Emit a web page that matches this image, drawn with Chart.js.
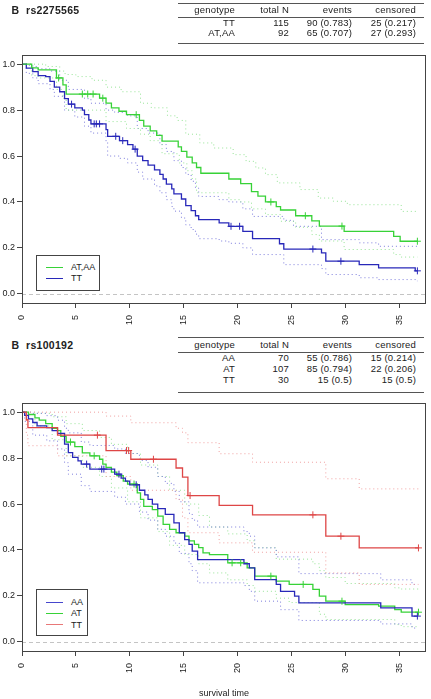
<!DOCTYPE html>
<html lang="en">
<head>
<meta charset="UTF-8" />
<title>Survival by genotype</title>
<script src="https://cdn.jsdelivr.net/npm/chart.js@4.4.1/dist/chart.umd.min.js"></script>
<style>
  body { margin: 0; background: #fff; width: 431px; height: 699px; position: relative; overflow: hidden;
         font-family: "Liberation Sans", Arial, sans-serif; color: #222; }
  canvas { position: absolute; left: 0; }
  .t { position: absolute; white-space: nowrap; }
  .ttl { font-weight: bold; font-size: 10.5px; line-height: 12px; letter-spacing: 0.3px; }
  .cell { font-size: 9.5px; line-height: 10px; text-align: right; width: 70px; letter-spacing: 0.2px; }
  .rule { position: absolute; height: 0; border-top: 1px solid #555; }
  .legend { position: absolute; border: 1px solid #444; background: #fff; }
  .legend .lab { position: absolute; font-size: 9px; line-height: 10px; white-space: nowrap; }
  .legend .ln { position: absolute; height: 1.5px; width: 17px; }
</style>
</head>
<body>
<canvas id="km1" width="431" height="335" style="top:0"></canvas>
<canvas id="km2" width="431" height="304" style="top:395px"></canvas>
<div id="overlay"></div>
<script>
// axes
const xTicks = [0, 5, 10, 15, 20, 25, 30, 35];
const yTicks = [0, 0.2, 0.4, 0.6, 0.8, 1.0];
const xRange = [0, 37.5];
const yRange = [-0.04, 1.04];

// ---- panel 1: rs2275565 ----
const snp1 = 'rs2275565';
const geno1 = ['TT', 'AT,AA'];
const totalN1 = [115, 92];
const events1 = [90, 65];
const legend1 = ['AT,AA', 'TT'];

// AT,AA
const atAaTime = [0, 0.9, 1.5, 3.2, 3.8, 4.1, 7.2, 7.8, 8.3, 9.0, 9.7, 10.9, 11.3, 11.9, 12.5, 13.0, 14.5, 14.8, 15.3, 15.8, 16.2, 16.6, 19.2, 20.3, 21.3, 21.9, 22.6, 23.6, 24.0, 25.4, 26.9, 27.6, 29.9, 34.5, 35.1, 36.7];
const atAaSurv = [1, 0.984, 0.975, 0.94, 0.91, 0.87, 0.852, 0.83, 0.81, 0.795, 0.78, 0.755, 0.73, 0.71, 0.69, 0.665, 0.64, 0.62, 0.595, 0.57, 0.55, 0.525, 0.5, 0.48, 0.445, 0.425, 0.4, 0.38, 0.365, 0.34, 0.318, 0.295, 0.272, 0.25, 0.229, 0.229];
const atAaCens = [3.4, 5.6, 6.1, 6.6, 7.5, 10.6, 23.1, 26.3, 29.7, 36.7];
const atAaUpT = [0, 2.2, 3.5, 4.0, 5.0, 6.5, 7.8, 9.2, 11.0, 12.0, 13.5, 14.4, 15.2, 16.5, 17.8, 19.6, 20.8, 21.7, 22.6, 23.7, 25.8, 27.5, 28.9, 30.2, 35.2, 36.7];
const atAaUp = [1, 0.99, 0.97, 0.955, 0.946, 0.93, 0.9, 0.88, 0.83, 0.81, 0.775, 0.755, 0.695, 0.657, 0.635, 0.606, 0.577, 0.548, 0.519, 0.483, 0.454, 0.417, 0.403, 0.388, 0.359, 0.359];
const atAaLoT = [0, 0.9, 1.5, 3.2, 3.8, 4.1, 7.8, 9.7, 11.0, 11.9, 13.0, 14.6, 15.3, 15.8, 16.2, 19.2, 20.3, 21.3, 22.6, 24.0, 25.4, 26.9, 27.6, 29.9, 34.5, 35.1, 36.7];
const atAaLo = [1, 0.95, 0.94, 0.89, 0.85, 0.8, 0.75, 0.72, 0.695, 0.667, 0.61, 0.57, 0.536, 0.5, 0.44, 0.41, 0.4, 0.37, 0.345, 0.316, 0.29, 0.258, 0.23, 0.193, 0.171, 0.16, 0.16];

// TT
const ttTime = [0, 0.4, 1.0, 1.5, 2.2, 2.6, 3.0, 3.5, 3.95, 4.3, 4.9, 5.6, 5.8, 6.2, 6.4, 7.8, 7.95, 9.05, 9.8, 10.3, 10.7, 11.2, 11.7, 12.3, 12.8, 13.1, 13.4, 13.9, 14.1, 14.8, 15.2, 15.7, 16.1, 16.4, 18.3, 19.2, 20.5, 21.4, 23.9, 24.3, 27.8, 28.2, 31.3, 33.1, 36.5, 36.7];
const ttSurv = [1, 0.983, 0.968, 0.95, 0.946, 0.925, 0.9, 0.88, 0.85, 0.826, 0.81, 0.8, 0.78, 0.757, 0.74, 0.715, 0.686, 0.667, 0.65, 0.63, 0.6, 0.58, 0.56, 0.54, 0.52, 0.5, 0.478, 0.457, 0.435, 0.413, 0.384, 0.362, 0.34, 0.323, 0.309, 0.294, 0.272, 0.24, 0.218, 0.195, 0.178, 0.142, 0.127, 0.113, 0.1, 0.1];
const ttCens = [4.6, 6.7, 6.9, 7.2, 8.7, 9.35, 10.5, 19.4, 20.2, 27.0, 29.6, 36.7];
const ttUpT = [0, 0.4, 1.0, 1.5, 2.6, 3.5, 4.3, 5.8, 6.4, 7.8, 8.6, 9.8, 10.7, 11.7, 12.8, 13.4, 14.1, 14.8, 15.2, 15.7, 16.1, 16.4, 18.3, 19.2, 20.5, 21.4, 24.3, 25.2, 27.8, 31.3, 33.1, 36.7];
const ttUp = [1, 0.995, 0.99, 0.98, 0.97, 0.93, 0.89, 0.85, 0.83, 0.8, 0.79, 0.775, 0.72, 0.7, 0.65, 0.62, 0.58, 0.55, 0.52, 0.49, 0.46, 0.424, 0.41, 0.4, 0.37, 0.337, 0.32, 0.294, 0.236, 0.222, 0.207, 0.207];
const ttLoT = [0, 0.4, 1.0, 1.5, 2.6, 3.0, 3.95, 4.9, 5.8, 6.4, 7.8, 7.95, 9.05, 9.8, 10.7, 11.2, 12.3, 12.8, 13.4, 13.9, 14.1, 14.8, 15.2, 15.7, 16.1, 16.4, 18.3, 19.2, 20.5, 21.4, 24.3, 27.8, 28.2, 31.3, 33.1, 36.7];
const ttLo = [1, 0.96, 0.94, 0.915, 0.89, 0.86, 0.8, 0.77, 0.73, 0.7, 0.66, 0.6, 0.59, 0.57, 0.53, 0.5, 0.47, 0.44, 0.41, 0.38, 0.36, 0.33, 0.3, 0.28, 0.26, 0.24, 0.23, 0.22, 0.2, 0.171, 0.127, 0.11, 0.084, 0.07, 0.062, 0.055];

// ---- panel 2: rs100192 ----
const snp2 = 'rs100192';
const geno2 = ['AA', 'AT', 'TT'];
const totalN2 = [70, 107, 30];
const events2 = [55, 85, 15];
const legend2 = ['AA', 'AT', 'TT'];

// AA
const aaTime = [0, 0.25, 0.6, 1.0, 1.4, 2.3, 2.8, 3.3, 3.95, 4.3, 4.7, 5.2, 5.5, 6.3, 8.6, 9.2, 9.6, 10.0, 10.9, 11.4, 11.7, 12.1, 12.6, 13.3, 14.1, 14.6, 15.1, 15.5, 15.8, 16.3, 20.6, 21.1, 21.6, 23.6, 24.0, 25.3, 25.7, 33.3, 36.2, 36.7];
const aaSurv = [1, 0.986, 0.971, 0.955, 0.94, 0.933, 0.92, 0.908, 0.861, 0.824, 0.803, 0.788, 0.774, 0.752, 0.73, 0.713, 0.7, 0.684, 0.66, 0.64, 0.62, 0.6, 0.58, 0.555, 0.518, 0.475, 0.445, 0.424, 0.395, 0.358, 0.34, 0.322, 0.271, 0.25, 0.22, 0.199, 0.17, 0.148, 0.112, 0.112];
const aaCens = [6.0, 7.4, 7.6, 9.0, 10.6, 36.7];
const aaUpT = [0, 1.0, 2.3, 3.3, 3.95, 4.3, 5.5, 6.3, 8.6, 9.6, 10.9, 11.7, 12.6, 13.3, 14.1, 14.6, 15.5, 15.8, 16.3, 20.6, 21.1, 21.6, 23.6, 25.7, 33.3, 36.2, 36.7];
const aaUp = [1, 0.995, 0.985, 0.965, 0.93, 0.91, 0.87, 0.855, 0.84, 0.82, 0.79, 0.76, 0.72, 0.69, 0.655, 0.61, 0.56, 0.53, 0.5, 0.48, 0.46, 0.409, 0.37, 0.297, 0.27, 0.25, 0.25];
const aaLoT = [0, 0.25, 1.0, 2.3, 3.3, 3.95, 4.3, 5.5, 6.3, 8.6, 9.6, 10.9, 11.7, 12.6, 13.3, 14.1, 14.6, 15.5, 15.8, 16.3, 20.6, 21.1, 21.6, 24.0, 25.7, 33.3, 36.2, 36.7];
const aaLo = [1, 0.96, 0.9, 0.875, 0.84, 0.78, 0.73, 0.68, 0.655, 0.63, 0.6, 0.565, 0.53, 0.49, 0.46, 0.43, 0.385, 0.34, 0.31, 0.257, 0.245, 0.22, 0.177, 0.14, 0.093, 0.078, 0.06, 0.06];

// AT
const atTime = [0, 0.6, 1.2, 1.6, 2.2, 2.8, 3.3, 3.6, 4.1, 4.9, 5.6, 6.3, 7.2, 7.5, 7.8, 8.3, 8.8, 9.4, 9.8, 10.7, 11.0, 11.3, 12.1, 12.6, 13.1, 13.7, 14.3, 15.1, 15.5, 16.0, 16.4, 16.8, 17.4, 19.1, 20.9, 21.6, 23.6, 24.8, 27.0, 27.6, 28.2, 30.0, 33.1, 34.6, 35.2, 36.8];
const atSurv = [1, 0.99, 0.975, 0.965, 0.95, 0.93, 0.92, 0.895, 0.87, 0.85, 0.823, 0.81, 0.795, 0.774, 0.76, 0.739, 0.724, 0.7, 0.687, 0.649, 0.62, 0.59, 0.576, 0.547, 0.511, 0.49, 0.475, 0.46, 0.44, 0.424, 0.41, 0.387, 0.38, 0.344, 0.322, 0.286, 0.264, 0.25, 0.228, 0.199, 0.177, 0.162, 0.155, 0.14, 0.129, 0.129];
const atCens = [4.5, 6.7, 10.4, 19.5, 20.3, 23.1, 26.1, 29.7, 36.8];
const atUpT = [0, 1.2, 2.8, 4.1, 5.6, 7.2, 8.3, 9.8, 11.0, 12.6, 13.7, 15.1, 16.4, 17.4, 19.1, 20.9, 21.6, 23.6, 27.0, 27.6, 28.2, 30.0, 34.6, 35.2, 36.8];
const atUp = [1, 0.995, 0.98, 0.95, 0.92, 0.89, 0.86, 0.82, 0.77, 0.72, 0.66, 0.6, 0.55, 0.5, 0.47, 0.44, 0.41, 0.36, 0.34, 0.31, 0.28, 0.254, 0.235, 0.23, 0.23];
const atLoT = [0, 0.6, 1.2, 2.8, 4.1, 5.6, 7.2, 8.3, 9.8, 11.0, 12.6, 13.7, 15.1, 16.4, 17.4, 19.1, 20.9, 21.6, 23.6, 24.8, 27.6, 28.2, 34.6, 35.2, 36.8];
const atLo = [1, 0.97, 0.94, 0.88, 0.81, 0.76, 0.72, 0.67, 0.61, 0.54, 0.48, 0.42, 0.38, 0.34, 0.3, 0.27, 0.245, 0.22, 0.19, 0.171, 0.12, 0.097, 0.075, 0.066, 0.066];

// TT
const tt2Time = [0, 0.4, 0.55, 3.3, 7.8, 10.1, 14.3, 14.9, 15.4, 18.3, 21.4, 28.2, 31.3, 36.8];
const tt2Surv = [1, 0.967, 0.933, 0.9, 0.833, 0.795, 0.757, 0.717, 0.637, 0.594, 0.553, 0.46, 0.409, 0.409];
const tt2Cens = [7.0, 9.7, 9.9, 12.2, 15.6, 27.0, 29.6, 36.8];
const tt2UpT = [0, 7.8, 10.1, 14.3, 14.9, 15.4, 18.3, 21.4, 28.2, 31.3, 36.8];
const tt2Up = [1, 0.983, 0.954, 0.93, 0.91, 0.867, 0.819, 0.782, 0.71, 0.666, 0.666];
const tt2LoT = [0, 0.4, 0.55, 3.3, 7.8, 10.1, 14.3, 14.9, 15.4, 18.3, 21.4, 28.2, 31.3, 36.8];
const tt2Lo = [1, 0.9, 0.854, 0.81, 0.72, 0.66, 0.62, 0.54, 0.475, 0.431, 0.39, 0.3, 0.25, 0.25];

const green = 'rgb(55, 210, 55)', greenCI = 'rgb(150, 228, 150)';
const blue = 'rgb(40, 40, 185)', blueCI = 'rgb(125, 125, 220)';
const red = 'rgb(222, 70, 70)', redCI = 'rgb(240, 160, 160)';
const axisColor = '#444';
const tickFont = { family: '"Liberation Sans", Arial, sans-serif', size: 9 };

const pts = (t, s) => t.map((v, i) => ({ x: v, y: s[i] }));
const stepAt = (t, s, v) => { let y = s[0]; t.forEach((tt, i) => { if (tt <= v) y = s[i]; }); return y; };

function curve(t, s, upT, up, loT, lo, cens, col, ciCol) {
  const ci = d => ({ data: d, borderColor: ciCol, borderWidth: 1, borderDash: [1, 3],
                     stepped: true, pointRadius: 0, fill: false, order: 3 });
  return [
    ci(pts(upT, up)),
    ci(pts(loT, lo)),
    { data: pts(t, s), borderColor: col, borderWidth: 1.3, stepped: true, pointRadius: 0, fill: false, order: 2 },
    { data: cens.map(c => ({ x: c, y: stepAt(t, s, c) })), showLine: false, pointStyle: 'cross',
      pointRadius: 3.5, pointBorderWidth: 1, borderColor: col, order: 1 }
  ];
}

// frame box and dashed zero line
const framePlugin = {
  id: 'frame',
  beforeDatasetsDraw(chart) {
    const { ctx, chartArea: a, scales } = chart;
    const y0 = Math.round(scales.y.getPixelForValue(0)) + 0.5;
    ctx.save();
    ctx.strokeStyle = '#c4c4c4';
    ctx.lineWidth = 1;
    ctx.setLineDash([4, 3]);
    ctx.beginPath(); ctx.moveTo(a.left, y0); ctx.lineTo(a.right, y0); ctx.stroke();
    ctx.restore();
  },
  afterDraw(chart) {
    const { ctx, chartArea: a } = chart;
    ctx.save();
    ctx.strokeStyle = axisColor;
    ctx.lineWidth = 1;
    ctx.strokeRect(Math.round(a.left) + 0.5, Math.round(a.top) + 0.5,
                   Math.round(a.right - a.left) - 1, Math.round(a.bottom - a.top));
    ctx.restore();
  }
};

function makeChart(id, sets, padTop, xHeight, xTitle) {
  return new Chart(document.getElementById(id), {
    type: 'line',
    data: { datasets: sets },
    options: {
      responsive: false, animation: false, events: [],
      layout: { padding: { top: padTop, right: 4, left: 0, bottom: 0 } },
      plugins: { legend: { display: false }, tooltip: { enabled: false } },
      scales: {
        x: {
          type: 'linear', min: xRange[0], max: xRange[1],
          afterBuildTicks: s => { s.ticks = xTicks.map(v => ({ value: v })); },
          afterFit: s => { s.height = xHeight; },
          grid: { drawOnChartArea: false, tickLength: 5, color: axisColor },
          border: { display: false },
          ticks: { autoSkip: false, minRotation: 90, maxRotation: 90, padding: 7, color: '#222', font: tickFont },
          title: { display: !!xTitle, text: xTitle || '', color: '#222', font: tickFont, padding: { top: 0, bottom: 0 } }
        },
        y: {
          type: 'linear', min: yRange[0], max: yRange[1],
          afterBuildTicks: s => { s.ticks = yTicks.map(v => ({ value: v })); },
          afterFit: s => { s.width = 22; },
          grid: { drawOnChartArea: false, tickLength: 5, color: axisColor },
          border: { display: false },
          ticks: { padding: 2, color: '#222', font: tickFont, callback: v => v.toFixed(1) }
        }
      }
    },
    plugins: [framePlugin]
  });
}

makeChart('km1', [
  ...curve(atAaTime, atAaSurv, atAaUpT, atAaUp, atAaLoT, atAaLo, atAaCens, green, greenCI),
  ...curve(ttTime, ttSurv, ttUpT, ttUp, ttLoT, ttLo, ttCens, blue, blueCI)
], 55, 32, null);

makeChart('km2', [
  ...curve(tt2Time, tt2Surv, tt2UpT, tt2Up, tt2LoT, tt2Lo, tt2Cens, red, redCI),
  ...curve(aaTime, aaSurv, aaUpT, aaUp, aaLoT, aaLo, aaCens, blue, blueCI),
  ...curve(atTime, atSurv, atUpT, atUp, atLoT, atLo, atCens, green, greenCI)
], 8, 48, 'survival time');

// ---- titles, tables, legends (HTML overlay) ----
const overlay = document.getElementById('overlay');
function add(html) { overlay.insertAdjacentHTML('beforeend', html); }

const colRight = [235, 289, 352, 416];
const frac = (k, n) => String(+(k / n).toFixed(3));

function table(snp, geno, totN, ev, lay) {
  add(`<div class="t ttl" style="left:11.5px;top:${lay.base - 9.6}px">B</div>`);
  add(`<div class="t ttl" style="left:26px;top:${lay.base - 9.6}px">${snp}</div>`);
  const rules = [lay.top, lay.head, lay.bottom];
  rules.forEach(y => add(`<div class="rule" style="left:178px;width:246px;top:${y}px"></div>`));
  const rows = [['genotype', 'total N', 'events', 'censored']];
  geno.forEach((g, i) => {
    const c = totN[i] - ev[i];
    rows.push([g, String(totN[i]), `${ev[i]} (${frac(ev[i], totN[i])})`, `${c} (${frac(c, totN[i])})`]);
  });
  rows.forEach((r, i) => {
    const base = i === 0 ? lay.base : lay.rows[i - 1];
    r.forEach((txt, j) => add(`<div class="t cell" style="left:${colRight[j] - 70}px;top:${base - 8.3}px">${txt}</div>`));
  });
}

table(snp1, geno1, totalN1, events1, { top: 3, base: 13.3, head: 16.5, rows: [26.5, 36], bottom: 42.5 });
table(snp2, geno2, totalN2, events2, { top: 337, base: 348.3, head: 351.5, rows: [361.5, 372, 382.8], bottom: 391.5 });

function legend(labels, colors, box) {
  let h = `<div class="legend" style="left:${box.x}px;top:${box.y}px;width:${box.w}px;height:${box.h}px">`;
  labels.forEach((lab, i) => {
    const cy = box.first + i * 11.2;
    h += `<div class="ln" style="left:9px;top:${cy - 0.75}px;background:${colors[i]}"></div>`;
    h += `<div class="lab" style="left:34.5px;top:${cy - 5.2}px">${lab}</div>`;
  });
  add(h + '</div>');
}

legend(legend1, [green, blue], { x: 35.5, y: 255, w: 62, h: 34, first: 11.3 });
legend(legend2, ['rgb(70, 70, 205)', green, 'rgb(232, 120, 120)'], { x: 35.5, y: 589, w: 50.5, h: 45, first: 12.3 });
</script>
</body>
</html>
